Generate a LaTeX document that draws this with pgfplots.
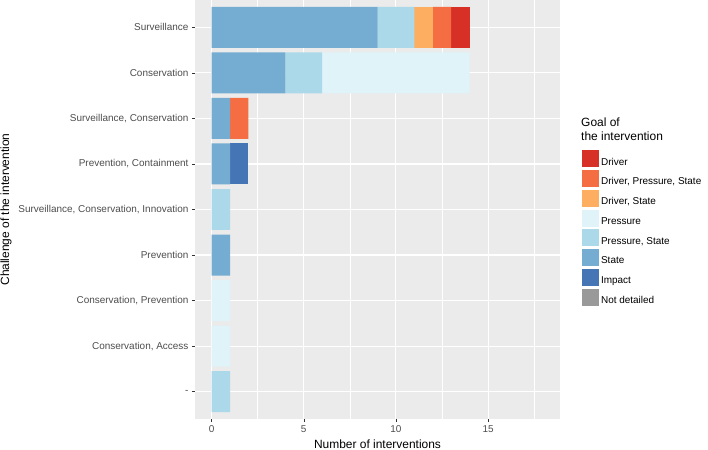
\documentclass[border=0pt]{standalone}
\usepackage{fontspec}
\setmainfont{Liberation Sans}
\usepackage{pgfplots}
\pgfplotsset{compat=1.18}
\definecolor{cDriver}{HTML}{D73027}
\definecolor{cDPS}{HTML}{F46D43}
\definecolor{cDS}{HTML}{FDAE61}
\definecolor{cP}{HTML}{E0F3F8}
\definecolor{cPS}{HTML}{ABD9E9}
\definecolor{cS}{HTML}{74ADD1}
\definecolor{cI}{HTML}{4575B4}
\definecolor{cND}{HTML}{999999}
\definecolor{panel}{HTML}{EBEBEB}
\definecolor{grey30}{HTML}{4D4D4D}
\definecolor{grey20}{HTML}{333333}
\begin{document}
\begin{tikzpicture}
\path[use as bounding box] (0,0) rectangle (708bp,450bp);
\begin{axis}[
  at={(195bp,31bp)}, anchor=south west,
  width=365bp, height=419bp, scale only axis,
  xbar stacked, bar width=0.9,
  xmin=-0.9, xmax=18.9, ymin=0.4, ymax=9.6, y dir=reverse,
  axis background/.style={fill=panel},
  axis line style={draw=none},
  xtick={0,5,10,15}, minor xtick={2.5,7.5,12.5,17.5},
  ytick={1,...,9},
  yticklabels={Surveillance, Conservation, {Surveillance, Conservation}, {Prevention, Containment}, {Surveillance, Conservation, Innovation}, Prevention, {Conservation, Prevention}, {Conservation, Access}, -},
  xmajorgrids, ymajorgrids, xminorgrids,
  major grid style={white, line width=1.1bp},
  minor grid style={white, line width=0.5bp},
  tick style={color=grey20, line width=0.5bp},
  major tick length=3bp, minor tick length=0pt, tick align=outside,
  xtick pos=bottom, ytick pos=left,
  ticklabel style={font=\fontsize{10}{12}\selectfont, text=grey30},
  /pgf/number format/assume math mode=true,
  xlabel={Number of interventions}, ylabel={Challenge of the intervention},
  label style={font=\fontsize{12}{14}\selectfont},
  legend image code/.code={\fill[#1, draw=none] (0bp,-5bp) rectangle (17bp,12bp);},
  legend style={at={(axis description cs:1.06,0.642)}, anchor=north west, draw=none, fill=none, inner sep=0pt, row sep=1.5bp, font=\fontsize{10}{12}\selectfont, /tikz/every even column/.append style={column sep=6bp}},
  legend cell align=left,
]
\addlegendimage{fill=cDriver}\addlegendentry{Driver}
\addlegendimage{fill=cDPS}\addlegendentry{Driver, Pressure, State}
\addlegendimage{fill=cDS}\addlegendentry{Driver, State}
\addlegendimage{fill=cP}\addlegendentry{Pressure}
\addlegendimage{fill=cPS}\addlegendentry{Pressure, State}
\addlegendimage{fill=cS}\addlegendentry{State}
\addlegendimage{fill=cI}\addlegendentry{Impact}
\addlegendimage{fill=cND}\addlegendentry{Not detailed}
% State
\addplot+[forget plot, fill=cS, draw=none] coordinates {(9,1) (4,2) (1,3) (1,4) (0,5) (1,6) (0,7) (0,8) (0,9)};
% Impact
\addplot+[forget plot, fill=cI, draw=none] coordinates {(0,1) (0,2) (0,3) (1,4) (0,5) (0,6) (0,7) (0,8) (0,9)};
% Pressure, State
\addplot+[forget plot, fill=cPS, draw=none] coordinates {(2,1) (2,2) (0,3) (0,4) (1,5) (0,6) (0,7) (0,8) (1,9)};
% Pressure
\addplot+[forget plot, fill=cP, draw=none] coordinates {(0,1) (8,2) (0,3) (0,4) (0,5) (0,6) (1,7) (1,8) (0,9)};
% Driver, State
\addplot+[forget plot, fill=cDS, draw=none] coordinates {(1,1) (0,2) (0,3) (0,4) (0,5) (0,6) (0,7) (0,8) (0,9)};
% Driver, Pressure, State
\addplot+[forget plot, fill=cDPS, draw=none] coordinates {(1,1) (0,2) (1,3) (0,4) (0,5) (0,6) (0,7) (0,8) (0,9)};
% Driver
\addplot+[forget plot, fill=cDriver, draw=none] coordinates {(1,1) (0,2) (0,3) (0,4) (0,5) (0,6) (0,7) (0,8) (0,9)};
\end{axis}
\node[anchor=north west, align=left, font=\fontsize{12}{14}\selectfont, inner sep=0pt] at (581bp,332bp) {Goal of\\the intervention};
\end{tikzpicture}
\end{document}
